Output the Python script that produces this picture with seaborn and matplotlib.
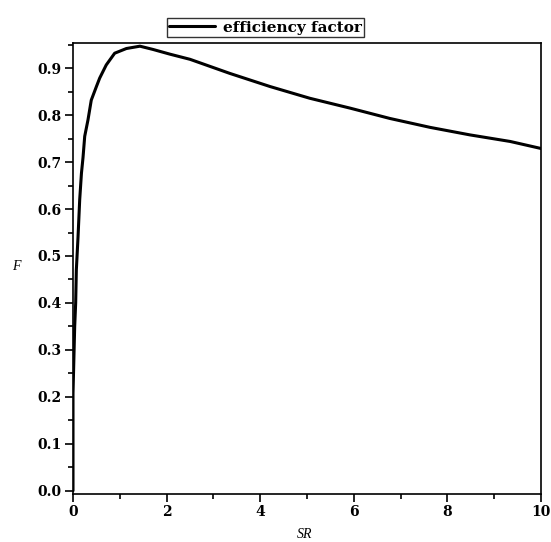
import matplotlib
matplotlib.use("Agg")
import matplotlib.pyplot as plt
import seaborn as sns
import pandas as pd
from matplotlib.ticker import MultipleLocator, FormatStrFormatter

# -----------------------------------
# Data
# -----------------------------------
sr = [0.0, 0.0, 0.036, 0.057, 0.071, 0.107, 0.143, 0.18, 0.214, 0.25, 0.32,
      0.39, 0.5, 0.57, 0.71, 0.89, 1.14, 1.43, 1.71, 2.07, 2.5, 3.35,
      4.21, 5.06, 5.92, 6.77, 7.63, 8.48, 9.34, 10.0]
eff = [0.0, 0.207, 0.35, 0.40, 0.47, 0.54, 0.62, 0.676, 0.71, 0.755, 0.79,
       0.832, 0.861, 0.879, 0.907, 0.932, 0.942, 0.947, 0.94, 0.93, 0.919, 0.889,
       0.861, 0.836, 0.815, 0.793, 0.774, 0.758, 0.744, 0.729]

df = pd.DataFrame({"SR": sr, "F": eff})

sns.set_style("ticks", {"axes.edgecolor": "black", "text.color": "black",
                        "xtick.color": "black", "ytick.color": "black",
                        "axes.labelcolor": "black"})
plt.rcParams["font.family"] = ["DejaVu Serif"]

fig = plt.figure(figsize=(5.51, 5.42), dpi=100)
ax = fig.add_axes([0.1325, 0.0886, 0.8495, 0.8314])

sns.lineplot(data=df, x="SR", y="F", ax=ax, color="black", linewidth=2.2,
             sort=False, estimator=None, label="efficiency factor")

ax.set_xlim(0, 10)
ax.set_ylim(-0.007, 0.953)
ax.xaxis.set_major_locator(MultipleLocator(2))
ax.xaxis.set_minor_locator(MultipleLocator(1))
ax.yaxis.set_major_locator(MultipleLocator(0.1))
ax.yaxis.set_minor_locator(MultipleLocator(0.05))
ax.xaxis.set_major_formatter(FormatStrFormatter("%d"))
ax.yaxis.set_major_formatter(FormatStrFormatter("%.1f"))

ax.tick_params(which="major", direction="out", length=6, width=1.2,
               labelsize=10, pad=2, colors="black")
ax.tick_params(which="minor", direction="out", length=3.5, width=1.2,
               colors="black")
for lab in ax.get_xticklabels() + ax.get_yticklabels():
    lab.set_fontweight("bold")

for sp in ax.spines.values():
    sp.set_linewidth(1.2)
    sp.set_color("black")
    sp.set_visible(True)

# axis labels placed where the reference has them
ax.set_xlabel("")
ax.set_ylabel("")
fig.text(16 / 551, 1 - 266 / 542, "F", fontstyle="italic", fontsize=10,
         family="Liberation Serif", ha="center", va="center", color="black")
fig.text(305 / 551, 1 - 541 / 542, "SR", fontstyle="italic", fontsize=10,
         family="Liberation Serif", ha="center", va="bottom", color="black")

leg = ax.legend(loc="lower left", bbox_to_anchor=(167 / 551, 1 - 37 / 542),
                bbox_transform=fig.transFigure, frameon=True, fancybox=False,
                prop={"weight": "bold", "size": 11}, handlelength=3.0,
                borderpad=0.15, handletextpad=0.5, borderaxespad=0)
leg.get_frame().set_edgecolor("black")
leg.get_frame().set_linewidth(1.0)
for t in leg.get_texts():
    t.set_color("black")

fig.savefig("out.png", dpi=100)
